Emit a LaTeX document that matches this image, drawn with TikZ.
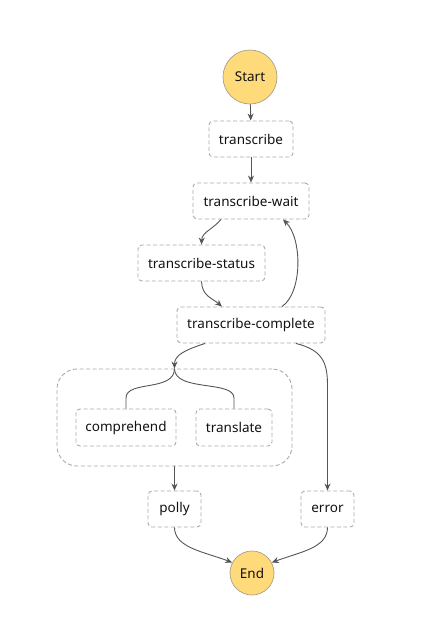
\documentclass[tikz,border=0pt]{standalone}
\usepackage{fontspec}
\setmainfont{Noto Sans}
\usetikzlibrary{arrows.meta}
\definecolor{startfill}{HTML}{FFDA7A}
\definecolor{circborder}{HTML}{A8A08A}
\definecolor{boxborder}{HTML}{AAAAAA}
\definecolor{edgecol}{HTML}{555555}
\definecolor{txt}{HTML}{111111}
\begin{document}
\begin{tikzpicture}[x=1pt,y=-1pt,
  state/.style={draw=boxborder, dash pattern=on 4pt off 2.5pt, rounded corners=4pt, line width=0.9pt,
     minimum height=36pt, inner sep=0pt, font=\fontsize{13.5}{15}\selectfont, text=txt},
  term/.style={circle, draw=circborder, fill=startfill, line width=0.7pt, inner sep=0pt,
     font=\fontsize{13.5}{15}\selectfont, text=txt},
  par/.style={draw=boxborder, dash pattern=on 4pt off 2.5pt, rounded corners=20pt, line width=0.9pt,
     minimum width=235pt, minimum height=97pt, inner sep=0pt},
  edge/.style={draw=edgecol, line width=0.9pt, -{Stealth[length=7pt,width=6pt]}},
  branch/.style={draw=edgecol, line width=0.9pt}
]
\useasboundingbox (0,0) rectangle (434,627);
\node[term, minimum size=54pt] (start) at (250,77) {Start};
\node[state, minimum width=84pt] (tr) at (251,139) {transcribe};
\node[state, minimum width=116pt] (tw) at (251,201) {transcribe-wait};
\node[state, minimum width=127pt] (ts) at (201.5,263) {transcribe-status};
\node[state, minimum width=148pt] (tc) at (251,325) {transcribe-complete};
\node[par] (pp) at (174.5,417.5) {};
\node[state, minimum width=100pt, minimum height=37pt] (co) at (126,427.5) {comprehend};
\node[state, minimum width=76pt, minimum height=37pt] (tl) at (234,427.5) {translate};
\node[state, minimum width=53pt] (po) at (174.5,509) {polly};
\node[state, minimum width=53pt] (er) at (327.5,509) {error};
\node[term, minimum size=44pt] (end) at (252,573) {End};

\draw[edge] (start) -- (tr);
\draw[edge] (tr) -- (tw);
\draw[edge] ([xshift=-30pt]tw.south) .. controls (212,230) and (202,232) .. (ts.north);
\draw[edge] (ts.south) .. controls (202,296) and (212,298) .. ([xshift=-29pt]tc.north);
\draw[edge] ([xshift=31pt]tc.north) .. controls (303,292) and (302,238) .. ([xshift=32pt]tw.south);
\draw[edge] ([xshift=-46pt]tc.south) .. controls (185,350) and (174.5,355) .. (pp.north);
\draw[branch] (pp.north) .. controls (174.5,392) and (126,380) .. (126,398) -- (co.north);
\draw[branch] (pp.north) .. controls (174.5,392) and (234,380) .. (234,398) -- (tl.north);
\draw[edge] ([xshift=45pt]tc.south) .. controls (322,350) and (327.5,362) .. (327.5,385) -- (er.north);
\draw[edge] (pp.south) -- (po.north);
\draw[edge] (po.south) .. controls (174.5,548) and (205,552) .. (end.152);
\draw[edge] (er.south) .. controls (327.5,548) and (300,552) .. (end.28);
\end{tikzpicture}
\end{document}
